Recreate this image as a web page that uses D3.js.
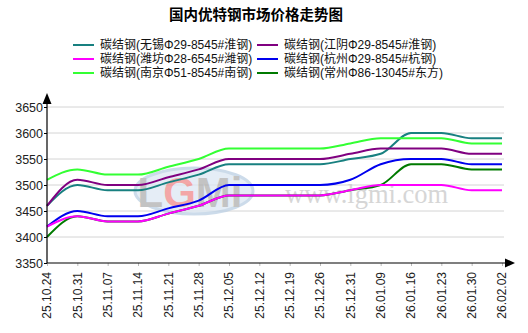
<!DOCTYPE html>
<html>
<head>
<meta charset="utf-8">
<script src="https://cdn.jsdelivr.net/npm/d3@7"></script>
<style>
  html, body { margin: 0; padding: 0; background: #fff; }
  svg { display: block; }
</style>
</head>
<body>
<svg id="chart" width="528" height="333"></svg>
<script>
// Weekly dates on the horizontal axis
const dates = ["25.10.24","25.10.31","25.11.07","25.11.14","25.11.21","25.11.28","25.12.05","25.12.12","25.12.19","25.12.26","25.12.31","26.01.09","26.01.16","26.01.23","26.01.30","26.02.02"];

// Price series (元/吨)
const wuxi      = [3460,3500,3490,3490,3505,3520,3540,3540,3540,3540,3550,3560,3600,3600,3590,3590];
const jiangyin  = [3460,3510,3500,3500,3515,3530,3550,3550,3550,3550,3560,3570,3570,3570,3560,3560];
const weifang   = [3420,3440,3430,3430,3445,3460,3480,3480,3480,3480,3490,3500,3500,3500,3490,3490];
const hangzhou  = [3420,3450,3440,3440,3455,3470,3500,3500,3500,3500,3510,3540,3550,3550,3540,3540];
const nanjing   = [3510,3530,3520,3520,3535,3550,3570,3570,3570,3570,3580,3590,3590,3590,3580,3580];
const changzhou = [3400,3440,3430,3430,3445,3460,3480,3480,3480,3480,3490,3500,3540,3540,3530,3530];

const seriesNames = [
  "碳结钢(无锡Φ29-8545#淮钢)",
  "碳结钢(江阴Φ29-8545#淮钢)",
  "碳结钢(潍坊Φ28-6545#潍钢)",
  "碳结钢(杭州Φ29-8545#杭钢)",
  "碳结钢(南京Φ51-8545#南钢)",
  "碳结钢(常州Φ86-13045#东方)"
];
const seriesColors = ["#188080", "#800080", "#ff00ff", "#0000ee", "#33ff33", "#007a00"];
const seriesValues = [wuxi, jiangyin, weifang, hangzhou, nanjing, changzhou];
const yTicks = [3350, 3400, 3450, 3500, 3550, 3600, 3650];

const svg = d3.select("#chart");

const plotLeft = 47, plotRight = 502, plotTop = 107, plotBottom = 263;
const x = d3.scalePoint().domain(dates).range([plotLeft, plotRight]);
const y = d3.scaleLinear().domain([3350, 3650]).range([plotBottom, plotTop]);

// Title
svg.append("text")
  .attr("x", 256).attr("y", 20)
  .attr("text-anchor", "middle")
  .attr("font-family", "'Noto Sans CJK SC', sans-serif")
  .attr("font-weight", "bold")
  .attr("font-size", 14.5)
  .attr("fill", "#000")
  .text("国内优特钢市场价格走势图");

// Legend: two columns, three rows
const legend = svg.append("g");
seriesNames.forEach((name, i) => {
  const col = i % 2, row = Math.floor(i / 2);
  const lx = col === 0 ? 73 : 257;
  const ly = 45 + row * 14;
  legend.append("line")
    .attr("x1", lx).attr("x2", lx + 21)
    .attr("y1", ly).attr("y2", ly)
    .attr("stroke", seriesColors[i]).attr("stroke-width", 2);
  legend.append("text")
    .attr("x", lx + 27).attr("y", ly)
    .attr("dy", "0.36em")
    .attr("font-family", "'Liberation Sans', 'Noto Sans CJK SC', sans-serif")
    .attr("font-size", 12)
    .attr("fill", "#111")
    .text(name);
});

// Horizontal grid lines
svg.append("g")
  .selectAll("line")
  .data(yTicks.filter(v => v > 3350))
  .join("line")
  .attr("x1", plotLeft).attr("x2", 504)
  .attr("y1", d => y(d)).attr("y2", d => y(d))
  .attr("stroke", "#d4d4d4").attr("stroke-width", 1);

// Watermark: LGMi oval logo and site address
const wm = svg.append("g").attr("opacity", 0.75);
wm.append("ellipse")
  .attr("cx", 194).attr("cy", 191).attr("rx", 59).attr("ry", 23)
  .attr("fill", "#dde8f3").attr("stroke", "#bcd0e4").attr("stroke-width", 3);
const logo = wm.append("text")
  .attr("x", 190).attr("y", 207)
  .attr("text-anchor", "middle")
  .attr("font-family", "'Liberation Sans', Arial, sans-serif")
  .attr("font-weight", "bold")
  .attr("font-size", 42);
logo.append("tspan").attr("fill", "#b0b0b0").text("L");
logo.append("tspan").attr("fill", "#f08a8a").text("G");
logo.append("tspan").attr("fill", "#b0b0b0").text("Mi");
wm.append("text")
  .attr("x", 285).attr("y", 203)
  .attr("font-family", "'Liberation Serif', 'Times New Roman', serif")
  .attr("font-size", 26.5)
  .attr("fill", "#c9c9c9")
  .text("www.lgmi.com");

// Series lines (drawing order keeps 常州 underneath 潍坊 where they coincide)
const line = d3.line()
  .x((d, i) => x(dates[i]))
  .y(d => y(d))
  .curve(d3.curveMonotoneX);

const drawOrder = [5, 0, 1, 3, 2, 4];
svg.append("g")
  .selectAll("path")
  .data(drawOrder)
  .join("path")
  .attr("d", i => line(seriesValues[i]))
  .attr("fill", "none")
  .attr("stroke", i => seriesColors[i])
  .attr("stroke-width", 2);

// Y axis with arrow
const yAxis = d3.axisLeft(y).tickValues(yTicks).tickSize(3).tickFormat(d3.format("d"));
const gy = svg.append("g").attr("transform", `translate(${plotLeft},0)`).call(yAxis);
gy.select(".domain").remove();
gy.selectAll(".tick line").attr("stroke", "#000");
gy.selectAll(".tick text")
  .attr("x", -4)
  .attr("font-family", "'Liberation Sans', Arial, sans-serif")
  .attr("font-size", 12.5)
  .attr("fill", "#222");
svg.append("line")
  .attr("x1", plotLeft).attr("x2", plotLeft)
  .attr("y1", plotBottom).attr("y2", 100)
  .attr("stroke", "#000").attr("stroke-width", 1.2);
svg.append("path")
  .attr("d", `M${plotLeft},93 L${plotLeft - 4.5},104 L${plotLeft + 4.5},104 Z`)
  .attr("fill", "#000");

// X axis with arrow
const xAxis = d3.axisBottom(x).tickSize(3).tickFormat("");
const gx = svg.append("g").attr("transform", `translate(0,${plotBottom})`).call(xAxis);
gx.select(".domain").remove();
gx.selectAll(".tick line").attr("stroke", "#bbb");
svg.append("line")
  .attr("x1", plotLeft).attr("x2", 508)
  .attr("y1", plotBottom).attr("y2", plotBottom)
  .attr("stroke", "#000").attr("stroke-width", 1.2);
svg.append("path")
  .attr("d", `M515,${plotBottom} L505,${plotBottom - 4.5} L505,${plotBottom + 4.5} Z`)
  .attr("fill", "#000");

// Rotated date labels
svg.append("g")
  .selectAll("text")
  .data(dates)
  .join("text")
  .attr("transform", d => `translate(${x(d)},272) rotate(-90)`)
  .attr("text-anchor", "end")
  .attr("dy", "0.35em")
  .attr("font-family", "'Liberation Sans', Arial, sans-serif")
  .attr("font-size", 12)
  .attr("fill", "#222")
  .text(d => d);
</script>
</body>
</html>
